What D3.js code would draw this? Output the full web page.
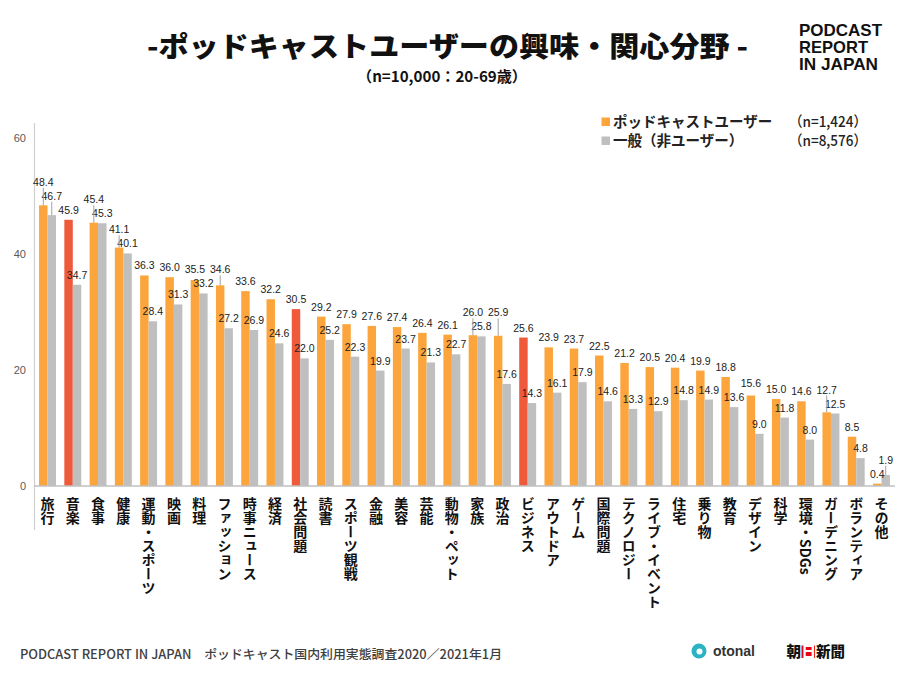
<!DOCTYPE html>
<html><head><meta charset="utf-8">
<script src="https://cdn.jsdelivr.net/npm/d3@7"></script>
<style>
body{margin:0;background:#fff}
svg{display:block}
.xl{writing-mode:vertical-rl;text-orientation:mixed}
</style>
</head><body>
<svg id="chart" width="900" height="675"></svg>
<script>
// ---- data ----
const categories = ["旅行","音楽","食事","健康","運動・スポーツ","映画","料理","ファッション","時事ニュース","経済","社会問題","読書","スポーツ観戦","金融","美容","芸能","動物・ペット","家族","政治","ビジネス","アウトドア","ゲーム","国際問題","テクノロジー","ライブ・イベント","住宅","乗り物","教育","デザイン","科学","環境・SDGs","ガーデニング","ボランティア","その他"];
const podcastUsers = [48.4,45.9,45.4,41.1,36.3,36.0,35.5,34.6,33.6,32.2,30.5,29.2,27.9,27.6,27.4,26.4,26.1,26.0,25.9,25.6,23.9,23.7,22.5,21.2,20.5,20.4,19.9,18.8,15.6,15.0,14.6,12.7,8.5,0.4];
const generalUsers = [46.7,34.7,45.3,40.1,28.4,31.3,33.2,27.2,26.9,24.6,22.0,25.2,22.3,19.9,23.7,21.3,22.7,25.8,17.6,14.3,16.1,17.9,14.6,13.3,12.9,14.8,14.9,13.6,9.0,11.8,8.0,12.5,4.8,1.9];
const highlighted = ["音楽","社会問題","ビジネス"];
const yTicks = [0,20,40,60];
const seriesNames = ["ポッドキャストユーザー","一般（非ユーザー）"];
const seriesCounts = ["（n=1,424）","（n=8,576）"];
const titleText = "-ポッドキャストユーザーの興味・関心分野 -";
const subtitleText = "（n=10,000：20-69歳）";
const logoLines = ["PODCAST","REPORT","IN JAPAN"];
const footerText = "PODCAST REPORT IN JAPAN　ポッドキャスト国内利用実態調査2020／2021年1月";

// ---- style ----
const C_OR = "#FBA53C", C_RED = "#EF5A3B", C_GR = "#BFBFBF";
const JP = "'Noto Sans CJK JP','Noto Sans',sans-serif";
const LAT = "'Liberation Sans',Arial,sans-serif";

const svg = d3.select("#chart");

const x = d3.scaleBand().domain(categories).range([34, 895]).paddingInner(0.33).paddingOuter(0.2);
const xs = d3.scaleBand().domain(["p","g"]).range([0, x.bandwidth()]);
const y = d3.scaleLinear().domain([0, 60]).range([486, 138]);

// titles
svg.append("text").attr("x", 147).attr("y", 57).attr("textLength", 601).attr("lengthAdjust","spacingAndGlyphs")
  .style("font-family", JP).style("font-weight", 900).style("font-size","28px").attr("fill","#111").text(titleText);
svg.append("text").attr("x", 357).attr("y", 82).attr("textLength", 170).attr("lengthAdjust","spacingAndGlyphs")
  .style("font-family", JP).style("font-weight", 700).style("font-size","15px").attr("fill","#111").text(subtitleText);

// logo top right
const logoBase = [35.7, 52.6, 70];
const logoW = [83, 69, 79];
logoLines.forEach((t,i)=>{
  svg.append("text").attr("x",799).attr("y",logoBase[i]).attr("textLength",logoW[i]).attr("lengthAdjust","spacingAndGlyphs")
    .style("font-family",LAT).style("font-weight",700).style("font-size","16.5px").attr("fill","#111").text(t);
});

// y axis
const yAxis = d3.axisLeft(y).tickValues(yTicks).tickSize(0).tickPadding(8).tickFormat(d3.format("d"));
const ga = svg.append("g").attr("transform","translate(34,0)").call(yAxis);
ga.select(".domain").remove();
ga.selectAll("text").style("font-family",LAT).style("font-size","11px").attr("fill","#595959");
svg.append("line").attr("x1",34.5).attr("x2",34.5).attr("y1",123).attr("y2",530).attr("stroke","#cfcfcf").attr("stroke-width",1.2);

// bars
const groups = svg.append("g").selectAll("g").data(categories).join("g")
  .attr("transform", d => `translate(${x(d)},0)`);
groups.append("rect").attr("x", xs("p")).attr("width", xs.bandwidth())
  .attr("y", (d,i)=>y(podcastUsers[i])).attr("height",(d,i)=>y(0)-y(podcastUsers[i]))
  .attr("fill", d => highlighted.includes(d) ? C_RED : C_OR);
groups.append("rect").attr("x", xs("g")).attr("width", xs.bandwidth())
  .attr("y", (d,i)=>y(generalUsers[i])).attr("height",(d,i)=>y(0)-y(generalUsers[i]))
  .attr("fill", C_GR);

// baseline
svg.append("line").attr("x1",34).attr("x2",895).attr("y1",y(0)).attr("y2",y(0)).attr("stroke","#c0c0c0").attr("stroke-width",1.6);

// x labels (vertical)
const gx = svg.append("g").attr("transform",`translate(0,${y(0)})`)
  .call(d3.axisBottom(x).tickSize(0).tickPadding(0));
gx.select(".domain").remove();
gx.selectAll("text").attr("class","xl").attr("y",11).attr("dy",null).attr("x",0)
  .attr("text-anchor","start")
  .style("font-family",JP).style("font-size","14px").style("font-weight",700).attr("fill","#111");

// value labels with collision avoidance
const labels = [];
categories.forEach((c,i)=>{
  labels.push({v:podcastUsers[i], cx:x(c)+xs("p")+xs.bandwidth()/2, top:y(podcastUsers[i])});
  labels.push({v:generalUsers[i], cx:x(c)+xs("g")+xs.bandwidth()/2, top:y(generalUsers[i])});
});
const lg = svg.append("g");
labels.forEach(l=>{
  l.el = lg.append("text").attr("text-anchor","middle").style("font-family",LAT).style("font-size","10.5px")
    .attr("fill","#222").text(d3.format(".1f")(l.v));
  l.w = l.el.node().getComputedTextLength();
  l.cy = l.top - 10;
});
const H = 14;
const placed = [];
labels.slice().sort((a,b)=>a.v-b.v).forEach(l=>{
  let moved = true;
  while(moved){
    moved = false;
    for(const p of placed){
      if(Math.abs(p.cx-l.cx) < (p.w+l.w)/2 + 1 && Math.abs(p.cy-l.cy) < H){
        l.cy = p.cy - H; moved = true;
      }
    }
  }
  placed.push(l);
});
labels.forEach(l=>{
  l.el.attr("x",l.cx).attr("y",l.cy+4);
  if(l.top-10-l.cy > 4){
    lg.append("line").attr("x1",l.cx).attr("x2",l.cx).attr("y1",l.cy+6).attr("y2",l.top)
      .attr("stroke","#a0a0a0").attr("stroke-width",1);
  }
});

// legend
const legRows = [121.5, 140.5];
[C_OR, C_GR].forEach((col,i)=>{
  svg.append("rect").attr("x",601.5).attr("y",legRows[i]-4).attr("width",8.5).attr("height",8.5).attr("fill",col);
  svg.append("text").attr("x",613).attr("y",legRows[i]+5).style("font-family",JP).style("font-weight",700)
    .style("font-size","14.5px").attr("fill","#222").text(seriesNames[i]);
  svg.append("text").attr("x",789).attr("y",legRows[i]+5).attr("textLength",78).attr("lengthAdjust","spacingAndGlyphs")
    .style("font-family",JP).style("font-weight",500)
    .style("font-size","14.5px").attr("fill","#222").text(seriesCounts[i]);
});

// footer
svg.append("text").attr("x",20).attr("y",659).attr("textLength",482).attr("lengthAdjust","spacingAndGlyphs")
  .style("font-family",JP).style("font-weight",500).style("font-size","12.5px").attr("fill","#404040").text(footerText);

// otonal logo
svg.append("circle").attr("cx",699).attr("cy",651).attr("r",7.5).attr("fill","#2bb3c4");
svg.append("circle").attr("cx",699.5).attr("cy",651.5).attr("r",3).attr("fill","#fff");
svg.append("text").attr("x",713).attr("y",655.5).attr("textLength",42).attr("lengthAdjust","spacingAndGlyphs")
  .style("font-family",LAT).style("font-weight",700).style("font-size","15.5px").attr("fill","#333").text("otonal");

// asahi logo
const AS = {font:"14.5px"};
const asahiChar = (t, xx, col) => svg.append("text").attr("x",xx).attr("y",657).style("font-family",JP)
  .style("font-weight",900).style("font-size",AS.font).attr("fill",col).text(t);
asahiChar("朝", 786.5, "#111");
svg.append("rect").attr("x",801.5).attr("y",645.5).attr("width",13.5).attr("height",12.5).attr("fill","#e60012");
asahiChar("日", 801.5, "#fff");
asahiChar("新聞", 816, "#111");
</script>
</body></html>
